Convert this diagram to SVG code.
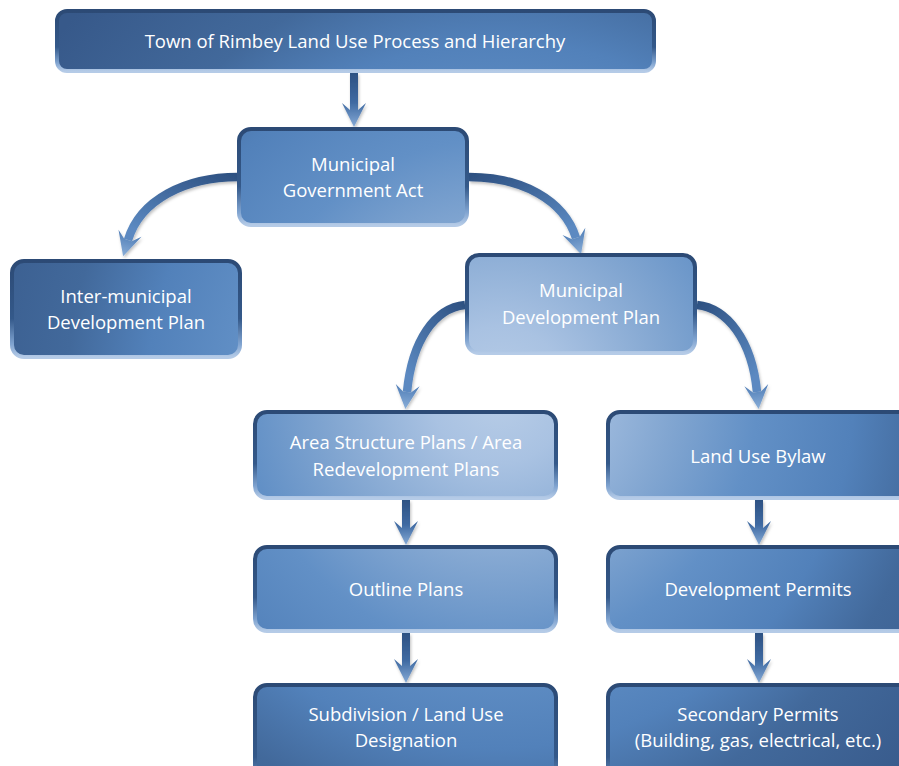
<svg xmlns="http://www.w3.org/2000/svg" width="899" height="766" viewBox="0 0 899 766">
<defs>
<radialGradient id="boxFill" gradientUnits="userSpaceOnUse" cx="500" cy="395" r="570">
<stop offset="0" stop-color="#b8cde7"/>
<stop offset="0.12" stop-color="#a9c2e2"/>
<stop offset="0.3" stop-color="#82a6d1"/>
<stop offset="0.45" stop-color="#6290c6"/>
<stop offset="0.62" stop-color="#5281ba"/>
<stop offset="0.76" stop-color="#42699b"/>
<stop offset="1" stop-color="#37598a"/>
</radialGradient>
<linearGradient id="edge" x1="0" y1="0" x2="0" y2="1">
<stop offset="0" stop-color="#2c4a75"/>
<stop offset="0.6" stop-color="#34598a"/>
<stop offset="0.86" stop-color="#7ea2cf"/>
<stop offset="1" stop-color="#b5cbe7"/>
</linearGradient>
<linearGradient id="vArrow" x1="0" y1="0" x2="0" y2="1">
<stop offset="0" stop-color="#2e5283"/>
<stop offset="0.55" stop-color="#3f6aa2"/>
<stop offset="1" stop-color="#86aad6"/>
</linearGradient>
<linearGradient id="curveL" x1="1" y1="0" x2="0.3" y2="1">
<stop offset="0" stop-color="#2e5182"/>
<stop offset="1" stop-color="#5b89c1"/>
</linearGradient>
<linearGradient id="curveR" x1="0" y1="0" x2="0.7" y2="1">
<stop offset="0" stop-color="#2e5182"/>
<stop offset="1" stop-color="#5b89c1"/>
</linearGradient>
<linearGradient id="headFill" x1="0" y1="0" x2="1" y2="0">
<stop offset="0" stop-color="#4f7db6"/>
<stop offset="1" stop-color="#8aaed8"/>
</linearGradient>
<marker id="head" markerUnits="userSpaceOnUse" viewBox="-8 -13 27 26" markerWidth="27" markerHeight="26" refX="0" refY="0" orient="auto">
<path d="M0,-4 L-7,-12 L17,0 L-7,12 L0,4 Z" fill="url(#headFill)"/>
</marker>
<filter id="sh" x="-20%" y="-20%" width="140%" height="140%">
<feDropShadow dx="1" dy="2" stdDeviation="1.5" flood-color="#000" flood-opacity="0.25"/>
</filter>
</defs>
<style>
.box{fill:url(#boxFill);stroke:url(#edge);stroke-width:4}
.t{font-family:"Open Sans","Liberation Sans",sans-serif;font-size:18.5px;fill:#ffffff;text-anchor:middle}
.curveL{fill:none;stroke:url(#curveL);stroke-width:8.5;marker-end:url(#head)}
.curveR{fill:none;stroke:url(#curveR);stroke-width:8.5;marker-end:url(#head)}
.va{fill:url(#vArrow)}
</style>
<g id="connectors" filter="url(#sh)">
<path class="va" d="M350,73 H358 V110 L366,103 L354,127 L342,103 L350,110 Z"/>
<path class="curveL" d="M238,177 C185,177 140,200 128,240"/>
<path class="curveR" d="M469,177 C522,177 564,200 576,238"/>
<path class="curveL" d="M465,305 C435,308 412,340 407,392"/>
<path class="curveR" d="M697,305 C727,308 752,340 757,392"/>
<path class="va" d="M402,500 H410 V528 L418,521 L406,545 L394,521 L402,528 Z"/>
<path class="va" d="M402,633 H410 V666 L418,659 L406,683 L394,659 L402,666 Z"/>
<path class="va" d="M755,500 H763 V528 L771,521 L759,545 L747,521 L755,528 Z"/>
<path class="va" d="M755,633 H763 V666 L771,659 L759,683 L747,659 L755,666 Z"/>
</g>
<g id="title">
<rect class="box" x="57" y="11" width="597" height="60" rx="10"/>
<text class="t" x="355" y="48">Town of Rimbey Land Use Process and Hierarchy</text>
</g>
<g id="mga">
<rect class="box" x="239" y="129" width="228" height="96" rx="12"/>
<text class="t" x="353" y="171">Municipal</text>
<text class="t" x="353" y="197">Government Act</text>
</g>
<g id="imdp">
<rect class="box" x="12" y="261" width="228" height="96" rx="12"/>
<text class="t" x="126" y="303">Inter-municipal</text>
<text class="t" x="126" y="329">Development Plan</text>
</g>
<g id="mdp">
<rect class="box" x="467" y="255" width="228" height="98" rx="12"/>
<text class="t" x="581" y="297">Municipal</text>
<text class="t" x="581" y="324">Development Plan</text>
</g>
<g id="asp">
<rect class="box" x="255" y="412" width="301" height="86" rx="12"/>
<text class="t" x="406" y="449">Area Structure Plans / Area</text>
<text class="t" x="406" y="476">Redevelopment Plans</text>
</g>
<g id="lub">
<rect class="box" x="608" y="412" width="320" height="86" rx="12"/>
<text class="t" x="758" y="463">Land Use Bylaw</text>
</g>
<g id="outline">
<rect class="box" x="255" y="547" width="301" height="84" rx="12"/>
<text class="t" x="406" y="596">Outline Plans</text>
</g>
<g id="devpermits">
<rect class="box" x="608" y="547" width="320" height="84" rx="12"/>
<text class="t" x="758" y="596">Development Permits</text>
</g>
<g id="subdivision">
<rect class="box" x="255" y="685" width="301" height="120" rx="12"/>
<text class="t" x="406" y="721">Subdivision / Land Use</text>
<text class="t" x="406" y="747">Designation</text>
</g>
<g id="secondary">
<rect class="box" x="608" y="685" width="320" height="120" rx="12"/>
<text class="t" x="758" y="721">Secondary Permits</text>
<text class="t" x="758" y="747">(Building, gas, electrical, etc.)</text>
</g>
</svg>
